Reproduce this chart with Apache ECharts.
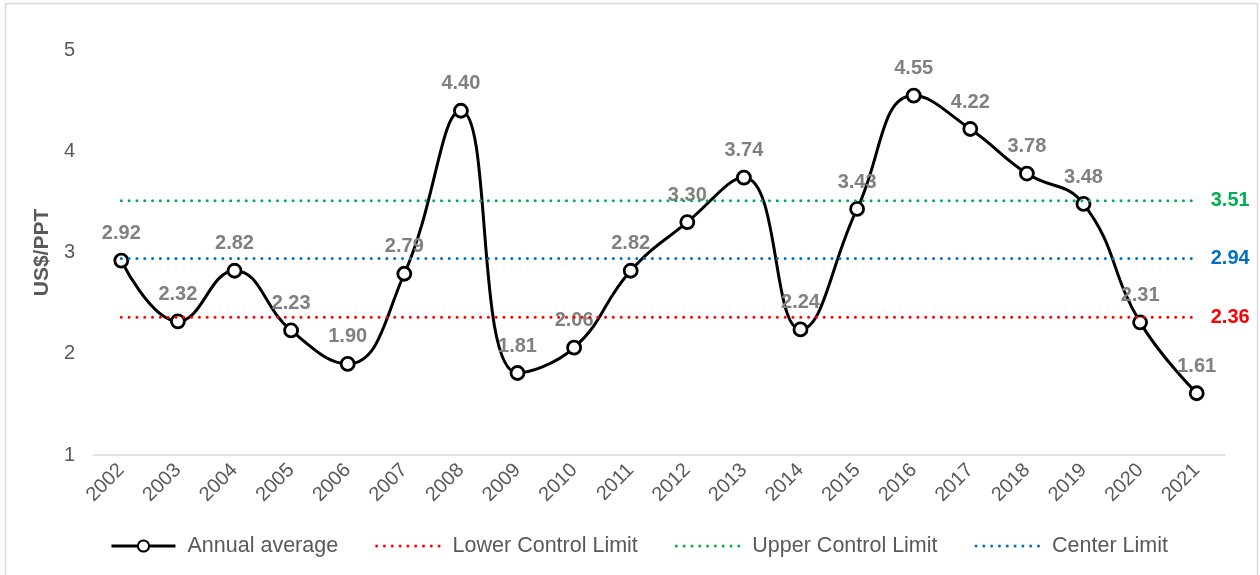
<!DOCTYPE html>
<html>
<head>
<meta charset="utf-8">
<script src="https://cdn.jsdelivr.net/npm/echarts@6/dist/echarts.min.js"></script>
<style>
  html, body { margin: 0; padding: 0; background: #ffffff; }
  #chart { width: 1260px; height: 575px; }
</style>
</head>
<body>
<div id="chart"></div>
<script>
// Years on the category axis
const years = ['2002', '2003', '2004', '2005', '2006', '2007', '2008', '2009', '2010', '2011',
               '2012', '2013', '2014', '2015', '2016', '2017', '2018', '2019', '2020', '2021'];
// Annual average price, US$/PPT
const annualAverage = [2.92, 2.32, 2.82, 2.23, 1.90, 2.79, 4.40, 1.81, 2.06, 2.82,
                       3.30, 3.74, 2.24, 3.43, 4.55, 4.22, 3.78, 3.48, 2.31, 1.61];
// Control chart limits
const lowerControlLimit = 2.36;
const upperControlLimit = 3.51;
const centerLimit = 2.94;
// Value axis ticks
const yTicks = [1, 2, 3, 4, 5];

const FONT = '"Liberation Sans", Arial, sans-serif';
const dotted = { type: [0.01, 7.8], cap: 'round', width: 3 };

function limitSeries(name, value, color) {
  return {
    name: name,
    type: 'line',
    data: years.map(() => value),
    symbol: 'none',
    lineStyle: Object.assign({ color: color }, dotted),
    itemStyle: { color: 'rgba(0,0,0,0)', borderWidth: 0 },
    silent: true,
    endLabel: {
      show: true,
      formatter: () => value.toFixed(2),
      color: color,
      fontFamily: FONT,
      fontWeight: 'bold',
      fontSize: 20,
      distance: 14
    },
    z: 3
  };
}

const chart = echarts.init(document.getElementById('chart'), null, { renderer: 'canvas' });
chart.setOption({
  animation: false,
  backgroundColor: '#ffffff',
  graphic: [{
    type: 'rect',
    shape: { x: 5.5, y: 3.5, width: 1252, height: 580 },
    style: { fill: 'none', stroke: '#d9d9d9', lineWidth: 1.5 },
    silent: true,
    z: -10
  }],
  grid: { left: 93, right: 35, top: 50, bottom: 120 },
  xAxis: {
    type: 'category',
    data: years,
    boundaryGap: true,
    axisLine: { show: true, lineStyle: { color: '#d9d9d9', width: 1.5 } },
    axisTick: { show: false },
    axisLabel: {
      rotate: 45,
      interval: 0,
      margin: 12,
      color: '#595959',
      fontFamily: FONT,
      fontSize: 20
    },
    splitLine: { show: false }
  },
  yAxis: {
    type: 'value',
    min: yTicks[0],
    max: yTicks[yTicks.length - 1],
    interval: 1,
    name: 'US$/PPT',
    nameLocation: 'middle',
    nameGap: 37,
    nameRotate: 90,
    nameTextStyle: { color: '#595959', fontFamily: FONT, fontSize: 21, fontWeight: 'bold' },
    axisLine: { show: false },
    axisTick: { show: false },
    splitLine: { show: false },
    axisLabel: { color: '#595959', fontFamily: FONT, fontSize: 20, margin: 18 }
  },
  legend: {
    left: 105,
    top: 530,
    itemWidth: 64,
    itemHeight: 14,
    itemGap: 37,
    lineStyle: { width: 3 },
    textStyle: { color: '#595959', fontFamily: FONT, fontSize: 21.5, padding: [0, 0, 0, 7] },
    data: ['Annual average', 'Lower Control Limit', 'Upper Control Limit', 'Center Limit']
  },
  series: [
    {
      name: 'Annual average',
      type: 'line',
      data: annualAverage,
      smooth: 0.45,
      symbol: 'circle',
      symbolSize: 13,
      lineStyle: { color: '#000000', width: 3 },
      itemStyle: { color: '#ffffff', borderColor: '#000000', borderWidth: 2.8 },
      label: {
        show: true,
        position: 'top',
        distance: 9,
        formatter: p => p.value.toFixed(2),
        color: '#808080',
        fontFamily: FONT,
        fontWeight: 'bold',
        fontSize: 20
      },
      z: 2
    },
    limitSeries('Lower Control Limit', lowerControlLimit, '#ff0000'),
    limitSeries('Upper Control Limit', upperControlLimit, '#00b050'),
    limitSeries('Center Limit', centerLimit, '#0070c0')
  ]
});
</script>
</body>
</html>
